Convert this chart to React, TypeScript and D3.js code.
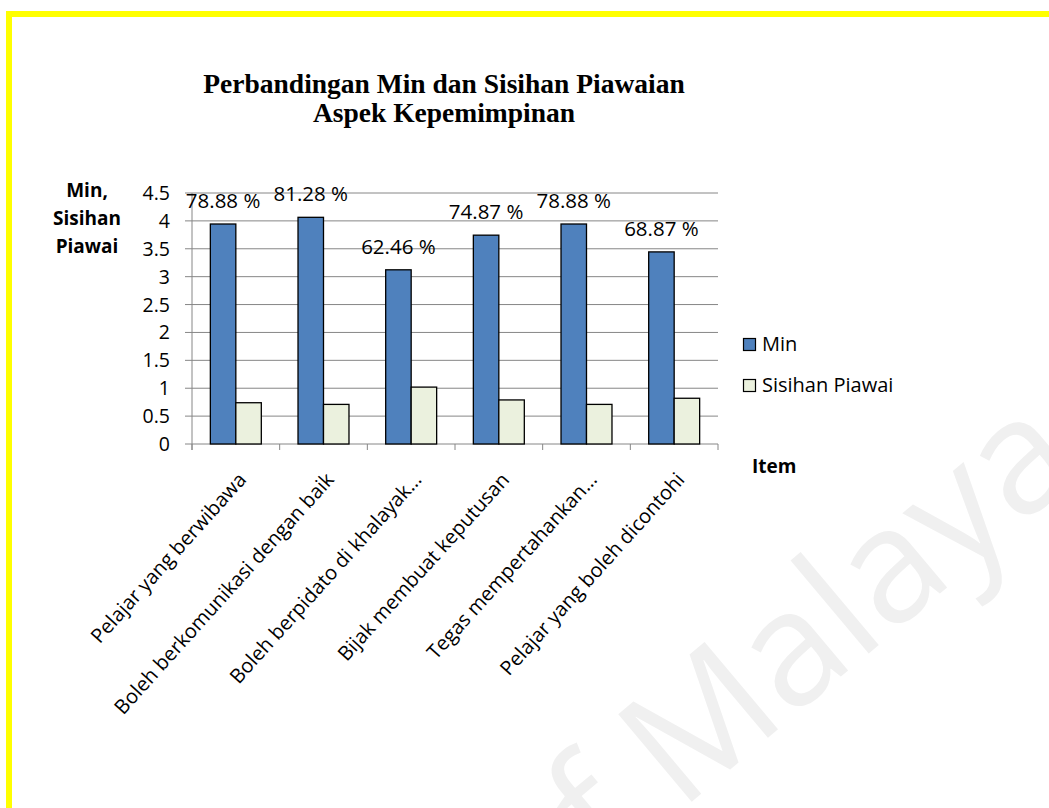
import React from 'react';
import * as d3 from 'd3';

const categories = [
  'Pelajar yang berwibawa',
  'Boleh berkomunikasi dengan baik',
  'Boleh berpidato di khalayak…',
  'Bijak membuat keputusan',
  'Tegas mempertahankan…',
  'Pelajar yang boleh dicontohi',
];
const minValues = [3.944, 4.064, 3.123, 3.744, 3.944, 3.444];
const sdValues = [0.74, 0.71, 1.02, 0.79, 0.71, 0.82];
const percentLabels = ['78.88 %', '81.28 %', '62.46 %', '74.87 %', '78.88 %', '68.87 %'];
const yTicks = [0, 0.5, 1, 1.5, 2, 2.5, 3, 3.5, 4, 4.5];
const seriesNames = ['Min', 'Sisihan Piawai'];
const seriesColors = ['#4F81BD', '#EBF1DE'];
const titleLines = ['Perbandingan Min dan Sisihan Piawaian', 'Aspek Kepemimpinan'];
const yTitleLines = ['Min,', 'Sisihan', 'Piawai'];
const xTitle = 'Item';
const watermark = 'of Malaya';

const W = 1049;
const H = 808;
const plot = { left: 192, right: 718, top: 193, bottom: 444 };
const FONT = "'Open Sans', sans-serif";

export default function App() {
  const x = d3.scaleBand<string>().domain(categories).range([plot.left, plot.right]).paddingInner(0).paddingOuter(0);
  const inner = d3
    .scaleBand<string>()
    .domain(seriesNames)
    .range([0, x.bandwidth()])
    .paddingInner(0)
    .paddingOuter(0.72);
  const y = d3.scaleLinear().domain([0, 4.5]).range([plot.bottom, plot.top]);
  const fmt = d3.format('');
  const series = [minValues, sdValues];
  const boundaries = categories.map((c) => x(c) as number).concat([plot.right]);

  return (
    <svg
      width={W}
      height={H}
      viewBox={`0 0 ${W} ${H}`}
      style={{ position: 'absolute', left: 0, top: 0, display: 'block', background: '#fff' }}
    >
      <rect x={0} y={0} width={W} height={H} fill="#fff" />
      {/* watermark */}
      <text
        transform="translate(533,935) rotate(-40)"
        fontFamily={FONT}
        fontSize={160}
        fill="#f0f0f0"
      >
        {watermark}
      </text>
      {/* yellow frame */}
      <rect x={9} y={14} width={W + 20} height={H + 20} fill="none" stroke="#FFFF00" strokeWidth={6} />

      {/* title */}
      {titleLines.map((t, i) => (
        <text
          key={t}
          x={444}
          y={93 + i * 28.5}
          textAnchor="middle"
          fontFamily="'Liberation Serif', 'Times New Roman', serif"
          fontWeight="bold"
          fontSize={27.5}
          fill="#000"
        >
          {t}
        </text>
      ))}

      {/* gridlines */}
      {yTicks.map((t) => (
        <line key={'g' + t} x1={plot.left - 7} x2={plot.right} y1={y(t)} y2={y(t)} stroke="#868686" strokeWidth={1} />
      ))}
      {/* y axis line */}
      <line x1={plot.left} x2={plot.left} y1={plot.top} y2={plot.bottom + 6} stroke="#868686" strokeWidth={1} />
      {/* x ticks */}
      {boundaries.map((b, i) => (
        <line key={'xt' + i} x1={b} x2={b} y1={plot.bottom} y2={plot.bottom + 6} stroke="#868686" strokeWidth={1} />
      ))}
      {/* y tick labels */}
      {yTicks.map((t) => (
        <text key={'yl' + t} x={170} y={y(t) + 7} textAnchor="end" fontFamily={FONT} fontSize={19.5} fill="#000">
          {fmt(t)}
        </text>
      ))}

      {/* bars */}
      {categories.map((c, i) =>
        series.map((vals, s) => {
          const bx = (x(c) as number) + (inner(seriesNames[s]) as number);
          return (
            <rect
              key={c + s}
              x={bx}
              y={y(vals[i])}
              width={inner.bandwidth()}
              height={plot.bottom - y(vals[i])}
              fill={seriesColors[s]}
              stroke="#000"
              strokeWidth={1.3}
            />
          );
        })
      )}

      {/* data labels */}
      {categories.map((c, i) => {
        const cx = (x(c) as number) + (inner(seriesNames[0]) as number) + inner.bandwidth() / 2;
        return (
          <text key={'dl' + i} x={cx} y={y(minValues[i]) - 16} textAnchor="middle" fontFamily={FONT} fontSize={20.5} fill="#000">
            {percentLabels[i]}
          </text>
        );
      })}

      {/* x labels */}
      {categories.map((c) => {
        const cx = (x(c) as number) + x.bandwidth() / 2;
        return (
          <text
            key={'xl' + c}
            transform={`translate(${cx + 1},${471}) rotate(-48)`}
            textAnchor="end"
            dy="0.71em"
            fontFamily={FONT}
            fontSize={20}
            fill="#000"
          >
            {c}
          </text>
        );
      })}

      {/* y axis title */}
      {yTitleLines.map((t, i) => (
        <text key={t} x={87} y={197 + i * 28} textAnchor="middle" fontFamily={FONT} fontWeight="bold" fontSize={19} fill="#000">
          {t}
        </text>
      ))}

      {/* x axis title */}
      <text x={752} y={473} fontFamily={FONT} fontWeight="bold" fontSize={19} fill="#000">
        {xTitle}
      </text>

      {/* legend */}
      {seriesNames.map((n, i) => (
        <g key={n}>
          <rect x={743.5} y={338.5 + i * 41} width={12} height={12} fill={seriesColors[i]} stroke="#000" strokeWidth={1.2} />
          <text x={762} y={351 + i * 41} fontFamily={FONT} fontSize={20} fill="#000">
            {n}
          </text>
        </g>
      ))}
    </svg>
  );
}
